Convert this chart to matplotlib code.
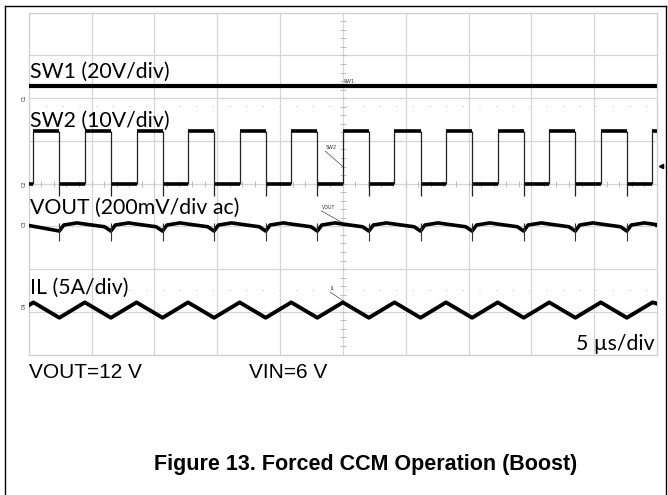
import matplotlib
matplotlib.use('Agg')
import matplotlib.pyplot as plt
from matplotlib.lines import Line2D

# scope capture, time in us (5 us/div, 10 div), vertical in divisions (8 div)
sw2_rise = [0.37, 4.47, 8.58, 12.68, 16.79, 20.89, 25.00, 29.11, 33.21, 37.32, 41.43, 45.53, 49.64]
sw2_fall = [2.44, 6.54, 10.65, 14.75, 18.86, 22.97, 27.07, 31.18, 35.29, 39.39, 43.50, 47.60]
sw1_level = 6.28
sw2_high, sw2_low, sw2_dip = 5.22, 4.00, 3.70
il_peak, il_valley = 1.22, 0.86
il_start, il_end = 1.15, 1.19
vout_start, vout_end = 3.02, 3.02
vout_offsets = [0.0, 0.35, 1.4, 2.1, 3.6]   # us after each SW2 falling edge
vout_levels = [2.89, 3.03, 3.08, 3.05, 2.99]
vout_spike = (2.65, 3.08)
dot_rows = [5.82, 1.52]   # faint dotted rows in the capture

W, H = 668, 495
fig = plt.figure(figsize=(W / 100, H / 100), dpi=100)


def fx(x):
    return x / W


def fy(y):
    return 1 - y / H


# outer frame
for xs, ys in [((5, 5), (6, 495)), ((5, 666), (6, 6)), ((666, 666), (6, 495))]:
    fig.add_artist(Line2D([fx(v) for v in xs], [fy(v) for v in ys], color='black', lw=1.0))

gl, gr, gt, gb = 28.7, 657.0, 12.7, 354.5
ax = fig.add_axes([fx(gl), fy(gb), fx(gr - gl), (gb - gt) / H])
ax.set_xlim(0, 50)
ax.set_ylim(0, 8)
ax.set_xticks([])
ax.set_yticks([])
for s in ax.spines.values():
    s.set_color('#cfcfcf')
    s.set_linewidth(0.9)

gcol = '#d6d6d6'
for i in range(1, 10):
    ax.axvline(i * 5, color=gcol, lw=0.9, zorder=1)
for j in range(1, 8):
    ax.axhline(j, color=gcol, lw=0.9, zorder=1)
for d in dot_rows:
    ax.axhline(d, color='#cccccc', lw=0.8, ls=(0, (1, 14)), zorder=1)
# minor ticks on the centre cross
ax.plot([25] * 41, [k * 0.2 for k in range(41)], ls='none', marker='_', ms=4, mew=0.7, color='#bdbdbd', zorder=1)
ax.plot([k * 1.0 for k in range(51)], [4] * 51, ls='none', marker='|', ms=4, mew=0.7, color='#bdbdbd', zorder=1)

# SW1
ax.plot([0, 50], [sw1_level, sw1_level], color='black', lw=3.0, solid_capstyle='butt', zorder=3)

# SW2: plateaus thick, edges thin
high_e = sw2_fall + [50]
ax.hlines([sw2_high] * len(sw2_rise), sw2_rise, high_e, color='black', lw=2.6, zorder=3)
low_s = [0] + sw2_fall
ax.hlines([sw2_low] * len(low_s), low_s, sw2_rise, color='black', lw=2.6, zorder=3)
ax.vlines(sw2_rise, sw2_low, sw2_high, color='#222222', lw=0.9, zorder=3)
ax.vlines(sw2_fall, sw2_dip, sw2_high, color='#222222', lw=0.9, zorder=3)

# VOUT
vt, vv = [0], [vout_start]
for f in sw2_fall:
    for o, lv in zip(vout_offsets, vout_levels):
        vt.append(f + o)
        vv.append(lv)
vt.append(50)
vv.append(vout_end)
ax.plot(vt, vv, color='black', lw=2.6, zorder=3)
ax.vlines(sw2_fall, vout_spike[0], vout_spike[1], color='#333333', lw=0.8, zorder=3)

# IL
it, iv = [0], [il_start]
for k, r in enumerate(sw2_rise):
    it.append(r)
    iv.append(il_peak)
    if k < len(sw2_fall):
        it.append(sw2_fall[k])
        iv.append(il_valley)
it.append(50)
iv.append(il_end)
ax.plot(it, iv, color='black', lw=2.8, zorder=3)

# tiny trace tags with leaders
tiny = dict(fontsize=3.5, color='#333333', family='DejaVu Sans')
ax.text(25.1, 6.33, 'SW1', ha='left', va='bottom', **tiny)
ax.text(23.6, 4.78, 'SW2', ha='left', va='bottom', **tiny)
ax.plot([23.6, 25.0], [4.76, 4.4], color='#444444', lw=0.5)
ax.text(23.3, 3.38, 'VOUT', ha='left', va='bottom', **tiny)
ax.plot([23.3, 25.0], [3.36, 3.08], color='#444444', lw=0.5)
ax.text(24.0, 1.48, 'IL', ha='left', va='bottom', **tiny)
ax.plot([24.0, 25.0], [1.46, 1.26], color='#444444', lw=0.5)

# channel ground markers at left
for lab, yv in [('C1', 6.02), ('C2', 4.0), ('C3', 3.05), ('C4', 1.15)]:
    fig.text(fx(24.5), fy(gb - yv * (gb - gt) / 8), lab, rotation=90, ha='center', va='center',
             fontsize=3.5, color='#333333')
# trigger level arrow
fig.add_artist(Line2D([fx(661)], [fy(166)], marker='<', ms=3, color='black', ls='none'))

big = dict(family='Lato', fontsize=15.3, color='black', va='baseline')
fig.text(fx(30), fy(78), 'SW1 (20V/div)', **big)
fig.text(fx(30), fy(126.5), 'SW2 (10V/div)', **big)
fig.text(fx(30), fy(213.5), 'VOUT (200mV/div ac)', **big)
fig.text(fx(30), fy(294), 'IL (5A/div)', **big)
fig.text(fx(655), fy(350), '5 \u00b5s/div', ha='right', **big)

cond = dict(family='Liberation Sans', fontsize=15, color='black', va='baseline')
fig.text(fx(29), fy(378.3), 'VOUT=12 V', **cond)
fig.text(fx(249), fy(378.3), 'VIN=6 V', **cond)

fig.text(fx(366), fy(470), 'Figure 13. Forced CCM Operation (Boost)', ha='center', va='baseline',
         family='Liberation Sans', fontweight='bold', fontsize=15.5)

fig.savefig('out.png', dpi=100)
